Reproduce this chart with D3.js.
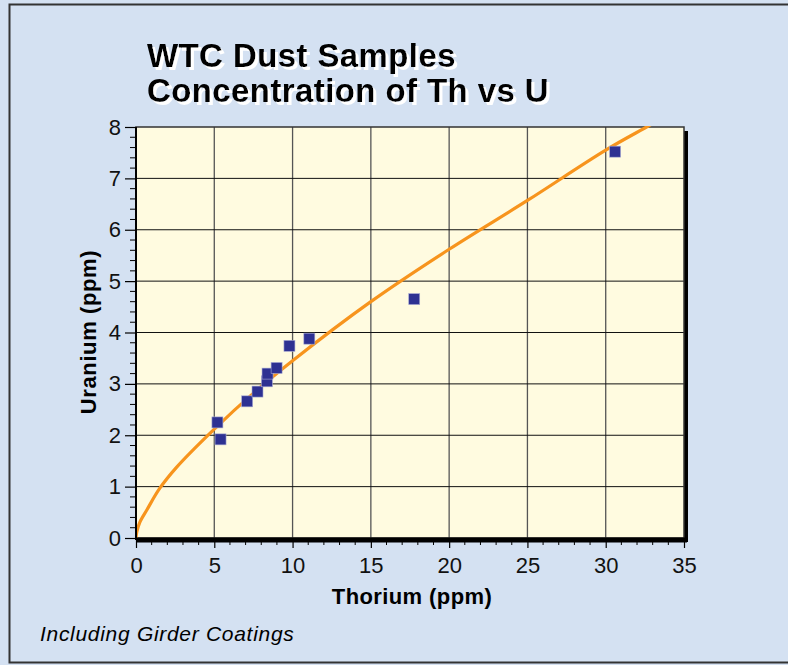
<!DOCTYPE html>
<html><head><meta charset="utf-8">
<script src="https://cdn.jsdelivr.net/npm/d3@7"></script>
<style>body{margin:0;background:#fff;}svg{display:block;font-family:Arial,"Liberation Sans",sans-serif;}</style>
</head><body>
<script>
// Data
const thorium = [5.2, 5.4, 7.1, 7.76, 8.36, 8.4, 8.98, 9.8, 11.07, 17.77, 30.6];
const uranium = [2.25, 1.92, 2.66, 2.85, 3.05, 3.2, 3.31, 3.74, 3.88, 4.65, 7.52];
const fitX = [0, 0.05, 0.25, 0.7, 1.5, 2.6, 5, 7.5, 10, 15, 20, 25, 30, 32.9, 34];
const fitY = [0, 0.12, 0.31, 0.55, 0.96, 1.38, 2.12, 2.82, 3.45, 4.6, 5.62, 6.57, 7.55, 8.05, 8.25];
const xTicks = [0, 5, 10, 15, 20, 25, 30, 35];
const yTicks = [0, 1, 2, 3, 4, 5, 6, 7, 8];
const titleLines = ["WTC Dust Samples", "Concentration of Th vs U"];
const xTitle = "Thorium (ppm)";
const yTitle = "Uranium (ppm)";
const footnote = "Including Girder Coatings";

const W = 788, H = 665;
const svg = d3.select("body").append("svg").attr("width", W).attr("height", H);

// white drop shadow filter for the title
const f = svg.append("defs").append("filter").attr("id", "wshadow")
  .attr("x", "-5%").attr("y", "-20%").attr("width", "115%").attr("height", "150%");
f.append("feOffset").attr("in", "SourceAlpha").attr("dx", 2.5).attr("dy", 3).attr("result", "off");
f.append("feFlood").attr("flood-color", "#ffffff").attr("result", "white");
f.append("feComposite").attr("in", "white").attr("in2", "off").attr("operator", "in").attr("result", "sh");
const fm = f.append("feMerge");
fm.append("feMergeNode").attr("in", "sh");
fm.append("feMergeNode").attr("in", "SourceGraphic");

svg.append("rect").attr("width", W).attr("height", H).attr("fill", "#d4e1f2");
svg.append("rect").attr("x", 9.5).attr("y", 4.5).attr("width", W + 20).attr("height", 658)
  .attr("fill", "#d4e1f2").attr("stroke", "#333").attr("stroke-width", 2);

const L = 136, T = 127, R = 684, B = 538;
const x = d3.scaleLinear().domain([0, 35]).range([L, R]);
const y = d3.scaleLinear().domain([0, 8]).range([B, T]);

// Title with white shadow
const tg = svg.append("g").style("font-weight", "bold").style("font-size", "33px").style("letter-spacing", "0.4px");
titleLines.forEach((t, i) => {
  tg.append("text").attr("x", 147).attr("y", 66.5 + i * 35).attr("fill", "#000")
    .attr("filter", "url(#wshadow)").text(t);
});

// shadow + plot bg
svg.append("rect").attr("x", L + 4).attr("y", T + 4).attr("width", R - L).attr("height", B - T).attr("fill", "#000");
svg.append("rect").attr("x", L).attr("y", T).attr("width", R - L).attr("height", B - T).attr("fill", "#fffbe0");

// grid
svg.append("g").selectAll("line").data(xTicks.slice(1, -1)).join("line")
  .attr("x1", d => x(d)).attr("x2", d => x(d)).attr("y1", T).attr("y2", B)
  .attr("stroke", "#555").attr("stroke-width", 1.3);
svg.append("g").selectAll("line").data(yTicks.slice(1, -1)).join("line")
  .attr("x1", L).attr("x2", R).attr("y1", d => y(d)).attr("y2", d => y(d))
  .attr("stroke", "#111").attr("stroke-width", 1);

// frame
svg.append("rect").attr("x", L).attr("y", T).attr("width", R - L).attr("height", B - T)
  .attr("fill", "none").attr("stroke", "#333").attr("stroke-width", 1.5);

// fit curve
svg.append("clipPath").attr("id", "clip").append("rect").attr("x", L).attr("y", T - 1).attr("width", R - L).attr("height", B - T + 1);
svg.append("path").datum(fitX.map((d, i) => [d, fitY[i]]))
  .attr("clip-path", "url(#clip)")
  .attr("d", d3.line().x(d => x(d[0])).y(d => y(d[1])).curve(d3.curveCatmullRom.alpha(0.5)))
  .attr("fill", "none").attr("stroke", "#f7941d").attr("stroke-width", 3.2);

// markers
const s = 11;
svg.append("g").selectAll("rect").data(thorium.map((d, i) => [d, uranium[i]])).join("rect")
  .attr("x", d => x(d[0]) - s / 2).attr("y", d => y(d[1]) - s / 2).attr("width", s).attr("height", s)
  .attr("fill", "#2e3192").attr("stroke", "#a9abd4").attr("stroke-width", 0.6);

// x axis
const xAxis = d3.axisBottom(x).tickValues(xTicks).tickSize(10).tickPadding(9).tickFormat(d3.format("d"));
const xa = svg.append("g").attr("transform", `translate(0,${B})`).call(xAxis)
  .attr("font-size", null).attr("font-family", null);
xa.select(".domain").remove();
xa.selectAll(".tick line").attr("stroke", "#000").attr("stroke-width", 1.2);
xa.selectAll("text").style("font-size", "22px").attr("fill", "#111");
const xMinor = d3.range(0, 35.01, 1).filter(d => d % 5 !== 0);
svg.append("g").selectAll("line").data(xMinor).join("line")
  .attr("x1", d => x(d)).attr("x2", d => x(d)).attr("y1", B).attr("y2", B + 7)
  .attr("stroke", "#000").attr("stroke-width", 1);
svg.append("line").attr("x1", L).attr("x2", R + 3).attr("y1", B + 2).attr("y2", B + 2)
  .attr("stroke", "#000").attr("stroke-width", 5);

// y axis
const yAxis = d3.axisLeft(y).tickValues(yTicks).tickSize(11).tickPadding(4).tickFormat(d3.format("d"));
const ya = svg.append("g").attr("transform", `translate(${L},0)`).call(yAxis)
  .attr("font-size", null).attr("font-family", null);
ya.select(".domain").remove();
ya.selectAll(".tick line").attr("stroke", "#000").attr("stroke-width", 1.2);
ya.selectAll("text").style("font-size", "22px").attr("fill", "#111");
const yMinor = d3.range(0, 8.001, 0.2).filter(d => Math.abs(d - Math.round(d)) > 0.01);
svg.append("g").selectAll("line").data(yMinor).join("line")
  .attr("x1", L - 6).attr("x2", L).attr("y1", d => y(d)).attr("y2", d => y(d))
  .attr("stroke", "#000").attr("stroke-width", 1);
svg.append("line").attr("x1", L).attr("x2", L).attr("y1", T).attr("y2", B + 2)
  .attr("stroke", "#000").attr("stroke-width", 2);

// axis titles
svg.append("text").attr("x", 412).attr("y", 604).attr("text-anchor", "middle")
  .style("font-weight", "bold").style("font-size", "22px").style("letter-spacing", "0.4px").text(xTitle);
svg.append("text").attr("transform", `translate(96,332) rotate(-90)`).attr("text-anchor", "middle")
  .style("font-weight", "bold").style("font-size", "22px").style("letter-spacing", "0.6px").text(yTitle);

// footnote
svg.append("text").attr("x", 40).attr("y", 641).style("font-style", "italic").style("font-size", "21px")
  .style("letter-spacing", "0.7px").text(footnote);
</script>
</body></html>
